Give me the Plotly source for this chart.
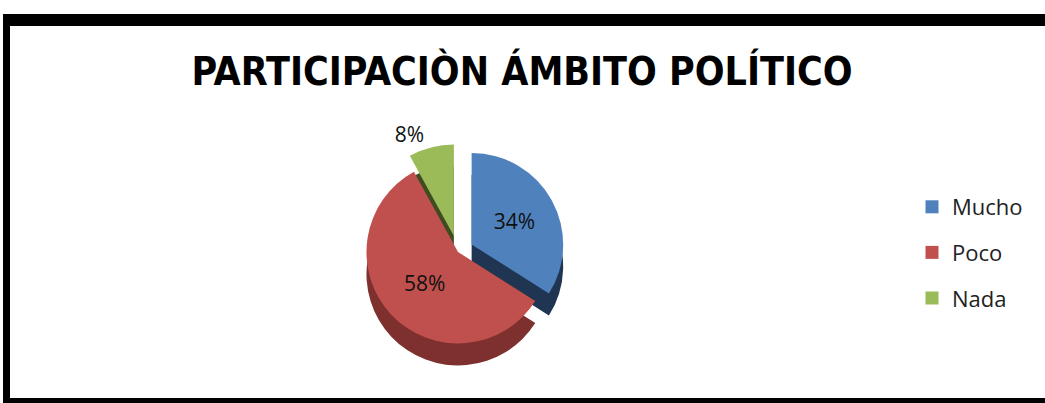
import plotly.graph_objects as go

categories = ["Mucho", "Poco", "Nada"]
values = [34, 58, 8]
colors = ["#4F81BD", "#C0504D", "#9BBB59"]
side_colors = ["#1F3552", "#7E302E", "#3F4C22"]
pulls = [0.17, 0.0, 0.18]
title = "PARTICIPACIÒN ÁMBITO POLÍTICO"

W, H = 1045, 403


def px_y(p):
    return 1 - p / H


def px_x(p):
    return p / W


cx, cy, half = 458, 252, 108
depth = 22

fig = go.Figure()

# darker copy underneath, shifted down, fakes the 3D side
fig.add_trace(
    go.Pie(
        labels=categories,
        values=values,
        sort=False,
        direction="clockwise",
        rotation=0,
        pull=pulls,
        marker={"colors": side_colors, "line": {"width": 0}},
        textinfo="none",
        hoverinfo="skip",
        showlegend=False,
        domain={
            "x": [px_x(cx - 160), px_x(cx + 160)],
            "y": [px_y(cy + half + depth), px_y(cy - half + depth)],
        },
    )
)

fig.add_trace(
    go.Pie(
        labels=categories,
        values=values,
        sort=False,
        direction="clockwise",
        rotation=0,
        pull=pulls,
        marker={"colors": colors, "line": {"width": 0}},
        textinfo="percent",
        texttemplate="%{percent:.0%}",
        textposition=["inside", "inside", "outside"],
        insidetextorientation="horizontal",
        textfont={"family": "Open Sans", "size": 21, "color": "#111111"},
        showlegend=False,
        domain={
            "x": [px_x(cx - 160), px_x(cx + 160)],
            "y": [px_y(cy + half), px_y(cy - half)],
        },
    )
)

# legend entries
for i, name in enumerate(categories):
    fig.add_trace(
        go.Scatter(
            x=[None],
            y=[None],
            mode="markers",
            name=name,
            legendgroup=name,
            marker={"symbol": "square", "size": 13, "color": colors[i]},
        )
    )

shapes = [
    # top, left, bottom frame bars
    {"type": "rect", "xref": "paper", "yref": "paper", "x0": px_x(3), "x1": 1.0,
     "y0": px_y(26), "y1": px_y(14), "fillcolor": "black", "line": {"width": 0}},
    {"type": "rect", "xref": "paper", "yref": "paper", "x0": px_x(3), "x1": px_x(10),
     "y0": 0, "y1": px_y(14), "fillcolor": "black", "line": {"width": 0}},
    {"type": "rect", "xref": "paper", "yref": "paper", "x0": px_x(3), "x1": 1.0,
     "y0": 0, "y1": px_y(398), "fillcolor": "black", "line": {"width": 0}},
]

fig.update_layout(
    width=W,
    height=H,
    margin={"l": 0, "r": 0, "t": 0, "b": 0},
    paper_bgcolor="white",
    plot_bgcolor="white",
    xaxis={"visible": False},
    yaxis={"visible": False},
    shapes=shapes,
    title={
        "text": f"<b>{title}</b>",
        "x": px_x(522),
        "xanchor": "center",
        "y": px_y(71),
        "yanchor": "middle",
        "font": {"family": "DejaVu Sans Condensed", "size": 39, "color": "black"},
    },
    legend={
        "x": px_x(912),
        "xanchor": "left",
        "y": px_y(186),
        "yanchor": "top",
        "font": {"family": "Open Sans", "size": 22, "color": "#222222"},
        "tracegroupgap": 14,
        "bgcolor": "rgba(0,0,0,0)",
    },
)

fig.write_html(
    "out.html",
    config={"displayModeBar": False},
    post_script="document.body.style.margin='0';",
)
